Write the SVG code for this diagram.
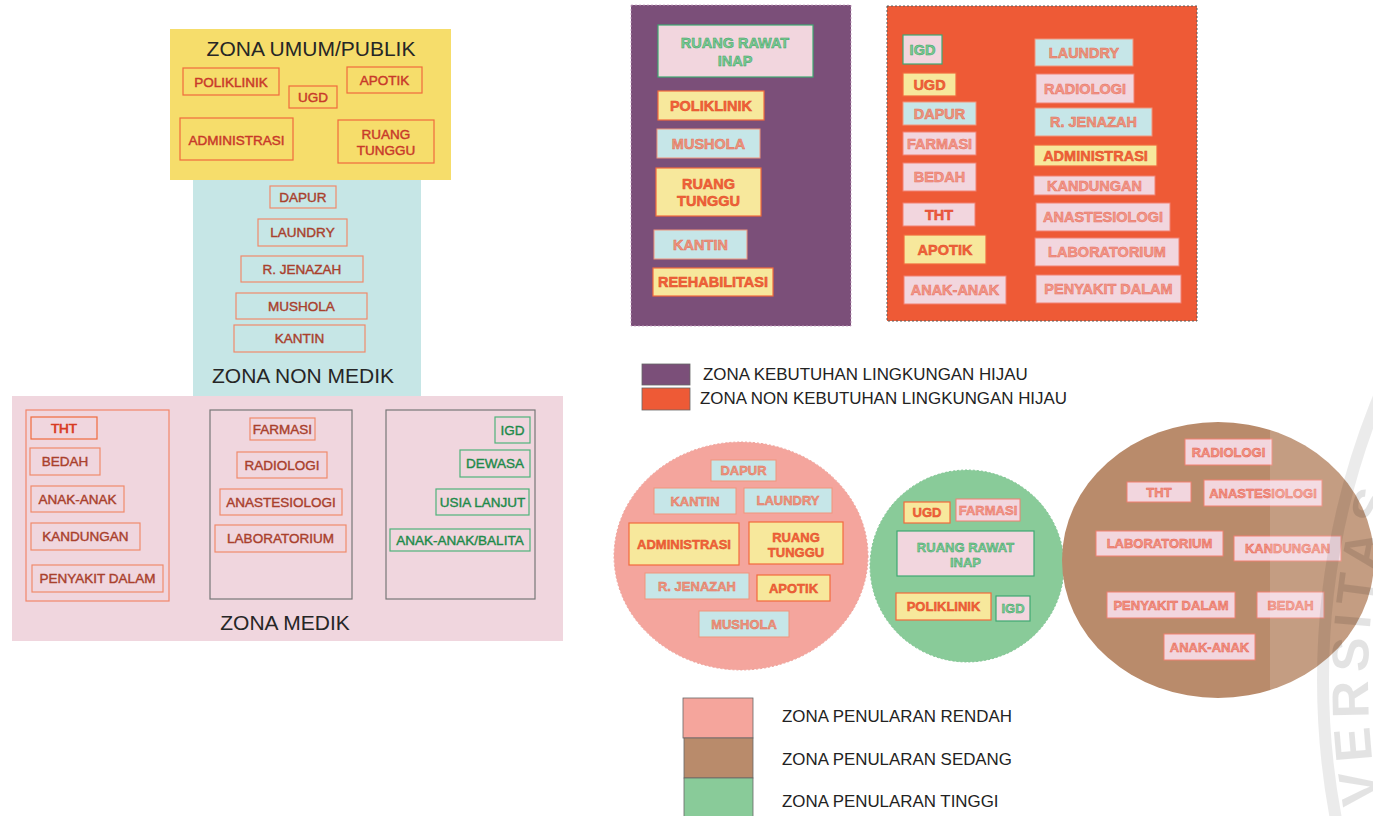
<svg xmlns="http://www.w3.org/2000/svg" width="1373" height="816" viewBox="0 0 1373 816">
  <defs>
    <style>
      text { font-family: "Liberation Sans", Arial, sans-serif; text-anchor: middle; }
      .zone-title { font-size: 21px; fill: #262626; }
      .legend { font-size: 16.9px; fill: #222; text-anchor: start; }
      /* left schema labels */
      .bx { fill: none; stroke-width: 1.2; }
      .bx-red { stroke: #f06a3c; }
      .bx-sal { stroke: #f08a6c; }
      .bx-grn { stroke: #4fb27a; }
      .grp-red { fill: none; stroke: #f2856a; stroke-width: 1.2; }
      .grp-gry { fill: none; stroke: #777; stroke-width: 1.2; }
      .tl { font-size: 13.5px; }
      .tl-red { fill: #c8392a; stroke: #c8392a; stroke-width: 0.45; }
      .tl-brn { fill: #a9402c; stroke: #a9402c; stroke-width: 0.4; }
      .tl-tht { fill: #d83a22; stroke: #d83a22; stroke-width: 0.7; }
      .tl-grn { fill: #1e8a4a; stroke: #1e8a4a; stroke-width: 0.4; }
      /* filled tiles */
      .k-blu { fill: #c6e6e8; stroke: #f0957c; stroke-width: 1; }
      .k-yel { fill: #f7e89c; stroke: #f26a3c; stroke-width: 1.2; }
      .k-pnk { fill: #f2d6de; stroke: #f28070; stroke-width: 1; }
      .k-pgn { fill: #f2d6de; stroke: #3ea872; stroke-width: 1.2; }
      .tr { font-weight: bold; font-size: 14.5px; stroke-width: 0.5; }
      .tc { font-weight: bold; font-size: 13px; stroke-width: 0.45; }
      .f-sal { fill: #ee9680; stroke: #e07058; }
      .f-org { fill: #f2623a; stroke: #e0502a; }
      .f-pnk { fill: #f2988a; stroke: #e8705e; }
      .f-tht { fill: #ee5a40; stroke: #e0482e; }
      .f-grn { fill: #7ccc94; stroke: #38a064; }
      .f-brw { fill: #f09484; stroke: #e8604e; }
    </style>
  </defs>

  <rect width="1373" height="816" fill="#ffffff"/>

  <!-- ===== hierarchical zoning scheme ===== -->
  <g id="zona-umum">
    <rect x="170" y="29" width="281" height="151" fill="#f6dd6b"/>
    <text class="zone-title" x="311" y="56">ZONA UMUM/PUBLIK</text>
  </g>
  <g id="umum-poliklinik"><rect class="bx bx-red" x="183" y="68" width="96" height="27"/><text class="tl tl-red" x="231" y="86.5">POLIKLINIK</text></g>
  <g id="umum-ugd"><rect class="bx bx-red" x="289" y="86" width="48" height="22"/><text class="tl tl-red" x="313" y="101.8">UGD</text></g>
  <g id="umum-apotik"><rect class="bx bx-red" x="347" y="67" width="75" height="26"/><text class="tl tl-red" x="384.5" y="84.8">APOTIK</text></g>
  <g id="umum-administrasi"><rect class="bx bx-red" x="180" y="118" width="113" height="42"/><text class="tl tl-red" x="236.5" y="144.5">ADMINISTRASI</text></g>
  <g id="umum-ruang-tunggu"><rect class="bx bx-red" x="338" y="120" width="96" height="43"/><text class="tl tl-red" x="386" y="139">RUANG</text><text class="tl tl-red" x="386" y="155">TUNGGU</text></g>

  <g id="zona-non-medik">
    <rect x="193" y="180" width="228" height="217" fill="#c6e6e6"/>
    <text class="zone-title" x="303" y="383">ZONA NON MEDIK</text>
  </g>
  <g id="nm-dapur"><rect class="bx bx-sal" x="270" y="186" width="66" height="22"/><text class="tl tl-brn" x="303" y="201.8">DAPUR</text></g>
  <g id="nm-laundry"><rect class="bx bx-sal" x="258" y="219" width="89" height="27"/><text class="tl tl-brn" x="302.5" y="237.4">LAUNDRY</text></g>
  <g id="nm-jenazah"><rect class="bx bx-sal" x="241" y="256" width="122" height="26"/><text class="tl tl-brn" x="302" y="273.9">R. JENAZAH</text></g>
  <g id="nm-mushola"><rect class="bx bx-sal" x="236" y="293" width="131" height="26"/><text class="tl tl-brn" x="301.5" y="310.9">MUSHOLA</text></g>
  <g id="nm-kantin"><rect class="bx bx-sal" x="234" y="325" width="131" height="27"/><text class="tl tl-brn" x="299.5" y="343.4">KANTIN</text></g>

  <g id="zona-medik">
    <rect x="12" y="396" width="551" height="245" fill="#f0d6de"/>
    <rect class="grp-red" x="26" y="410" width="143" height="191"/>
    <rect class="grp-gry" x="210" y="410" width="142" height="189"/>
    <rect class="grp-gry" x="386" y="410" width="149" height="189"/>
    <text class="zone-title" x="285" y="630">ZONA MEDIK</text>
  </g>
  <g id="m-tht"><rect class="bx bx-red" x="31" y="417" width="66" height="22"/><text class="tl tl-tht" x="64" y="432.9">THT</text></g>
  <g id="m-bedah"><rect class="bx bx-sal" x="30" y="448" width="70" height="27"/><text class="tl tl-brn" x="65" y="466.4">BEDAH</text></g>
  <g id="m-anak"><rect class="bx bx-sal" x="31" y="486" width="93" height="26"/><text class="tl tl-brn" x="77.5" y="503.9">ANAK-ANAK</text></g>
  <g id="m-kandungan"><rect class="bx bx-sal" x="31" y="523" width="109" height="27"/><text class="tl tl-brn" x="85.5" y="541.4">KANDUNGAN</text></g>
  <g id="m-penyakit-dalam"><rect class="bx bx-sal" x="32" y="565" width="131" height="27"/><text class="tl tl-brn" x="97.5" y="583.4">PENYAKIT DALAM</text></g>
  <g id="m-farmasi"><rect class="bx bx-sal" x="250" y="418" width="65" height="22"/><text class="tl tl-brn" x="282.5" y="433.9">FARMASI</text></g>
  <g id="m-radiologi"><rect class="bx bx-sal" x="237" y="452" width="90" height="26"/><text class="tl tl-brn" x="282" y="469.9">RADIOLOGI</text></g>
  <g id="m-anastesiologi"><rect class="bx bx-sal" x="220" y="489" width="122" height="26"/><text class="tl tl-brn" x="281" y="506.9">ANASTESIOLOGI</text></g>
  <g id="m-laboratorium"><rect class="bx bx-sal" x="215" y="525" width="131" height="27"/><text class="tl tl-brn" x="280.5" y="543.4">LABORATORIUM</text></g>
  <g id="m-igd"><rect class="bx bx-grn" x="495" y="417" width="35" height="26"/><text class="tl tl-grn" x="512.5" y="434.9">IGD</text></g>
  <g id="m-dewasa"><rect class="bx bx-grn" x="460" y="450" width="70" height="27"/><text class="tl tl-grn" x="495" y="468.4">DEWASA</text></g>
  <g id="m-usia-lanjut"><rect class="bx bx-grn" x="436" y="489" width="93" height="26"/><text class="tl tl-grn" x="482.5" y="506.9">USIA LANJUT</text></g>
  <g id="m-balita"><rect class="bx bx-grn" x="390" y="529" width="140" height="22"/><text class="tl tl-grn" x="460" y="544.9">ANAK-ANAK/BALITA</text></g>

  <!-- ===== green environment zoning ===== -->
  <g id="zona-hijau">
    <rect x="631" y="5" width="220" height="321" fill="#7b4f79" stroke="#c7a2c2" stroke-width="0.8" stroke-dasharray="2 2"/>
  </g>
  <g id="h-rawat-inap"><rect class="k-pgn" x="658" y="25" width="155" height="52"/><text class="tr f-grn" x="735" y="48">RUANG RAWAT</text><text class="tr f-grn" x="735" y="65.5">INAP</text></g>
  <g id="h-poliklinik"><rect class="k-yel" x="658" y="91" width="106" height="29"/><text class="tr f-org" x="711" y="110.7">POLIKLINIK</text></g>
  <g id="h-mushola"><rect class="k-blu" x="657" y="129" width="103" height="29"/><text class="tr f-sal" x="708.5" y="148.7">MUSHOLA</text></g>
  <g id="h-ruang-tunggu"><rect class="k-yel" x="656" y="168" width="105" height="48"/><text class="tr f-org" x="708.5" y="189">RUANG</text><text class="tr f-org" x="708.5" y="206">TUNGGU</text></g>
  <g id="h-kantin"><rect class="k-blu" x="654" y="230" width="93" height="29"/><text class="tr f-sal" x="700.5" y="249.7">KANTIN</text></g>
  <g id="h-rehabilitasi"><rect class="k-yel" x="653" y="268" width="120" height="28"/><text class="tr f-org" x="713" y="287.2">REEHABILITASI</text></g>

  <g id="zona-non-hijau">
    <rect x="887" y="6" width="310" height="315" fill="#ee5a36" stroke="#5a5a5a" stroke-width="1" stroke-dasharray="2 2"/>
  </g>
  <g id="nh-igd"><rect class="k-pgn" x="903" y="35" width="39" height="29"/><text class="tr f-grn" x="922.5" y="54.7">IGD</text></g>
  <g id="nh-ugd"><rect class="k-yel" x="903" y="73" width="53" height="23"/><text class="tr f-org" x="929.5" y="89.7">UGD</text></g>
  <g id="nh-dapur"><rect class="k-blu" x="903" y="102" width="73" height="23"/><text class="tr f-sal" x="939.5" y="118.7">DAPUR</text></g>
  <g id="nh-farmasi"><rect class="k-pnk" x="903" y="132" width="73" height="23"/><text class="tr f-pnk" x="939.5" y="148.7">FARMASI</text></g>
  <g id="nh-bedah"><rect class="k-pnk" x="903" y="163" width="73" height="28"/><text class="tr f-pnk" x="939.5" y="182">BEDAH</text></g>
  <g id="nh-tht"><rect class="k-pnk" x="903" y="203" width="72" height="23"/><text class="tr f-tht" x="939" y="219.7">THT</text></g>
  <g id="nh-apotik"><rect class="k-yel" x="904" y="235" width="82" height="29"/><text class="tr f-org" x="945" y="254.7">APOTIK</text></g>
  <g id="nh-anak"><rect class="k-pnk" x="904" y="276" width="102" height="28"/><text class="tr f-pnk" x="955" y="295">ANAK-ANAK</text></g>
  <g id="nh-laundry"><rect class="k-blu" x="1035" y="39" width="98" height="27"/><text class="tr f-sal" x="1084" y="57.7">LAUNDRY</text></g>
  <g id="nh-radiologi"><rect class="k-pnk" x="1036" y="74" width="98" height="29"/><text class="tr f-pnk" x="1085" y="93.7">RADIOLOGI</text></g>
  <g id="nh-jenazah"><rect class="k-blu" x="1035" y="108" width="117" height="28"/><text class="tr f-sal" x="1093.5" y="127.2">R. JENAZAH</text></g>
  <g id="nh-administrasi"><rect class="k-yel" x="1034" y="145" width="123" height="21"/><text class="tr f-org" x="1095.5" y="160.7">ADMINISTRASI</text></g>
  <g id="nh-kandungan"><rect class="k-pnk" x="1034" y="176" width="121" height="19"/><text class="tr f-pnk" x="1094.5" y="190.7">KANDUNGAN</text></g>
  <g id="nh-anastesiologi"><rect class="k-pnk" x="1036" y="203" width="134" height="28"/><text class="tr f-pnk" x="1103" y="222">ANASTESIOLOGI</text></g>
  <g id="nh-laboratorium"><rect class="k-pnk" x="1035" y="238" width="144" height="28"/><text class="tr f-pnk" x="1107" y="257">LABORATORIUM</text></g>
  <g id="nh-penyakit-dalam"><rect class="k-pnk" x="1036" y="275" width="145" height="28"/><text class="tr f-pnk" x="1108.5" y="294">PENYAKIT DALAM</text></g>

  <g id="legend-hijau">
    <rect x="642" y="364" width="48" height="21" fill="#7b4f79" stroke="#666" stroke-width="0.8"/>
    <rect x="642" y="388" width="48" height="22" fill="#ee5a36" stroke="#666" stroke-width="0.8"/>
    <text class="legend" x="703" y="380">ZONA KEBUTUHAN LINGKUNGAN HIJAU</text>
    <text class="legend" x="700" y="404">ZONA NON KEBUTUHAN LINGKUNGAN HIJAU</text>
  </g>

  <!-- ===== infection risk zoning ===== -->
  <g id="zona-rendah">
    <ellipse cx="741" cy="556" rx="127" ry="114" fill="#f4a59d" stroke="#eea29a" stroke-width="1" stroke-dasharray="2 2"/>
  </g>
  <g id="r-dapur"><rect class="k-blu" x="711" y="460" width="65" height="21"/><text class="tc f-sal" x="743.5" y="475.2">DAPUR</text></g>
  <g id="r-kantin"><rect class="k-blu" x="654" y="488" width="82" height="26"/><text class="tc f-sal" x="695" y="505.7">KANTIN</text></g>
  <g id="r-laundry"><rect class="k-blu" x="744" y="488" width="88" height="25"/><text class="tc f-sal" x="788" y="505.2">LAUNDRY</text></g>
  <g id="r-administrasi"><rect class="k-yel" x="629" y="523" width="110" height="42"/><text class="tc f-org" x="684" y="548.7">ADMINISTRASI</text></g>
  <g id="r-ruang-tunggu"><rect class="k-yel" x="749" y="522" width="94" height="42"/><text class="tc f-org" x="796" y="542">RUANG</text><text class="tc f-org" x="796" y="557">TUNGGU</text></g>
  <g id="r-jenazah"><rect class="k-blu" x="645" y="573" width="104" height="26"/><text class="tc f-sal" x="697" y="590.7">R. JENAZAH</text></g>
  <g id="r-apotik"><rect class="k-yel" x="757" y="575" width="73" height="26"/><text class="tc f-org" x="793.5" y="592.7">APOTIK</text></g>
  <g id="r-mushola"><rect class="k-blu" x="699" y="611" width="90" height="26"/><text class="tc f-sal" x="744" y="628.7">MUSHOLA</text></g>

  <g id="zona-tinggi">
    <ellipse cx="967" cy="566" rx="97" ry="96" fill="#89cb99" stroke="#80c592" stroke-width="1" stroke-dasharray="2 2"/>
  </g>
  <g id="t-ugd"><rect class="k-yel" x="904" y="502" width="46" height="21"/><text class="tc f-org" x="927" y="517.2">UGD</text></g>
  <g id="t-farmasi"><rect class="k-pnk" x="956" y="499" width="64" height="22"/><text class="tc f-pnk" x="988" y="514.7">FARMASI</text></g>
  <g id="t-rawat-inap"><rect class="k-pgn" x="897" y="531" width="137" height="45"/><text class="tc f-grn" x="965.5" y="551.5">RUANG RAWAT</text><text class="tc f-grn" x="965.5" y="566.5">INAP</text></g>
  <g id="t-poliklinik"><rect class="k-yel" x="896" y="593" width="95" height="27"/><text class="tc f-org" x="943.5" y="611.2">POLIKLINIK</text></g>
  <g id="t-igd"><rect class="k-pgn" x="996" y="596" width="34" height="25"/><text class="tc f-grn" x="1013" y="613.2">IGD</text></g>

  <g id="zona-sedang">
    <ellipse cx="1218" cy="560" rx="156" ry="138" fill="#b98b6b"/>
  </g>
  <g id="s-radiologi"><rect class="k-pnk" x="1185" y="439" width="87" height="26"/><text class="tc f-brw" x="1228.5" y="456.7">RADIOLOGI</text></g>
  <g id="s-tht"><rect class="k-pnk" x="1127" y="482" width="64" height="20"/><text class="tc f-brw" x="1159" y="496.7">THT</text></g>
  <g id="s-anastesiologi"><rect class="k-pnk" x="1204" y="480" width="118" height="26"/><text class="tc f-brw" x="1263" y="497.7">ANASTESIOLOGI</text></g>
  <g id="s-laboratorium"><rect class="k-pnk" x="1096" y="531" width="127" height="25"/><text class="tc f-brw" x="1159.5" y="548.2">LABORATORIUM</text></g>
  <g id="s-kandungan"><rect class="k-pnk" x="1234" y="536" width="107" height="25"/><text class="tc f-brw" x="1287.5" y="553.2">KANDUNGAN</text></g>
  <g id="s-penyakit-dalam"><rect class="k-pnk" x="1107" y="592" width="128" height="26"/><text class="tc f-brw" x="1171" y="609.7">PENYAKIT DALAM</text></g>
  <g id="s-bedah"><rect class="k-pnk" x="1257" y="592" width="67" height="26"/><text class="tc f-brw" x="1290.5" y="609.7">BEDAH</text></g>
  <g id="s-anak"><rect class="k-pnk" x="1164" y="634" width="91" height="26"/><text class="tc f-brw" x="1209.5" y="651.7">ANAK-ANAK</text></g>

  <g id="legend-penularan">
    <rect x="683" y="698" width="70" height="40" fill="#f5a59c" stroke="#666" stroke-width="0.8"/>
    <rect x="684" y="738" width="69" height="40" fill="#b98b6b" stroke="#666" stroke-width="0.8"/>
    <rect x="684" y="778" width="69" height="40" fill="#89cb99" stroke="#666" stroke-width="0.8"/>
    <text class="legend" x="782" y="722">ZONA PENULARAN RENDAH</text>
    <text class="legend" x="782" y="765">ZONA PENULARAN SEDANG</text>
    <text class="legend" x="782" y="807">ZONA PENULARAN TINGGI</text>
  </g>

  <g id="connectors"/>

  <!-- faint seal watermark at the right margin -->
  <g id="watermark">
    <rect x="1270" y="0" width="103" height="816" fill="#ffffff" opacity="0.16"/>
    <circle cx="2068" cy="680" r="745" fill="none" stroke="#000" stroke-opacity="0.08" stroke-width="12"/>
    <path id="seal-arc" d="M 1386.5 840 A 700 700 0 0 1 1414.2 430" fill="none"/>
    <text font-size="52" font-weight="bold" fill="#000" fill-opacity="0.11" letter-spacing="8" style="text-anchor:start"><textPath href="#seal-arc" startOffset="38">VERSITAS</textPath></text>
  </g>
</svg>
